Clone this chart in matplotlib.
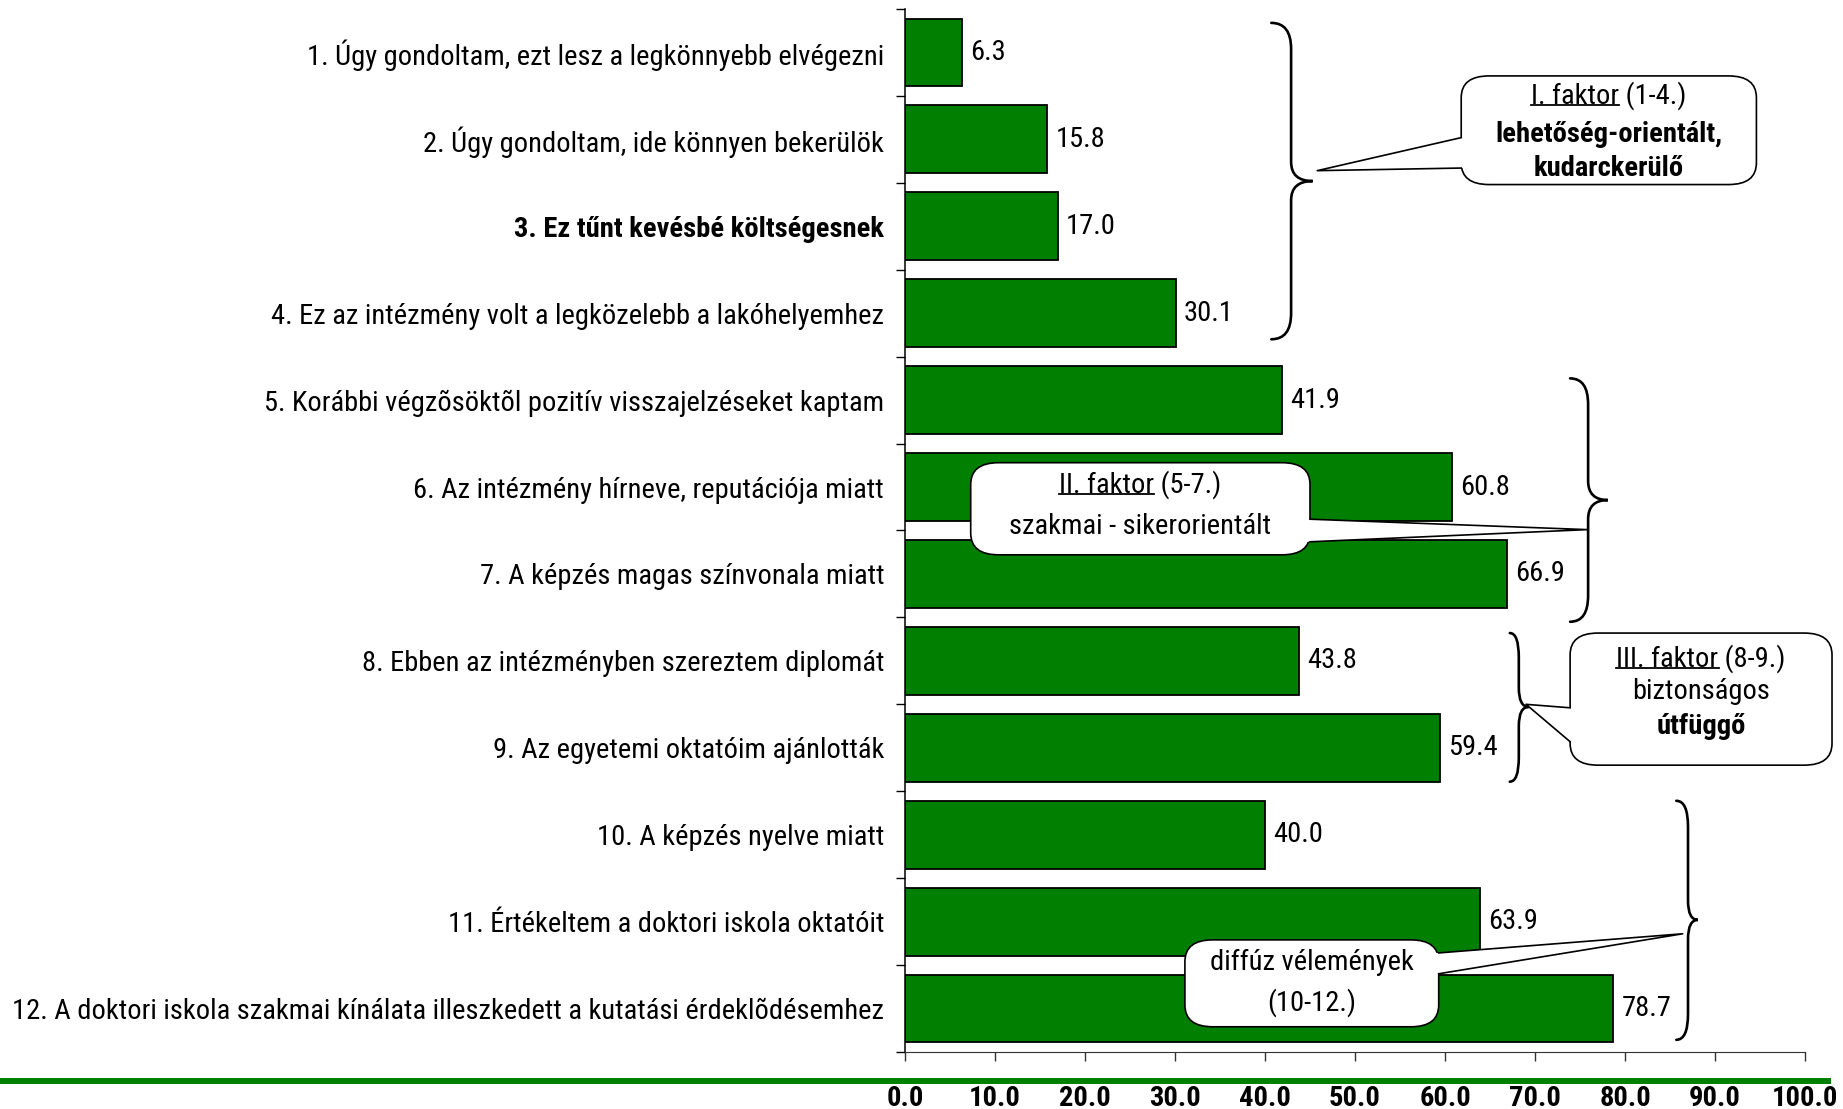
import numpy as np
import matplotlib.pyplot as plt
from matplotlib import font_manager
from matplotlib.patches import FancyBboxPatch, Polygon, PathPatch
from matplotlib.path import Path
from matplotlib.lines import Line2D

names = {f.name for f in font_manager.fontManager.ttflist}
narrow = None
for cand in ['Liberation Sans Narrow', 'Arial Narrow', 'Roboto Condensed', 'Open Sans Condensed']:
    if cand in names:
        narrow = cand
        break
if narrow is None:
    narrow = 'Liberation Sans'
    fs = 18.3
else:
    fs = 20.5
plt.rcParams['font.family'] = [narrow, 'DejaVu Sans']

# ------- data -------
labels = [
    "1. Úgy gondoltam, ezt lesz a legkönnyebb elvégezni",
    "2. Úgy gondoltam, ide könnyen bekerülök",
    "3. Ez tűnt kevésbé költségesnek",
    "4. Ez az intézmény volt a legközelebb a lakóhelyemhez",
    "5. Korábbi végzõsöktõl pozitív visszajelzéseket kaptam",
    "6. Az intézmény hírneve, reputációja miatt",
    "7. A képzés magas színvonala miatt",
    "8. Ebben az intézményben szereztem diplomát",
    "9. Az egyetemi oktatóim ajánlották",
    "10. A képzés nyelve miatt",
    "11. Értékeltem a doktori iskola oktatóit",
    "12. A doktori iskola szakmai kínálata illeszkedett a kutatási érdeklõdésemhez",
]
values = [6.3, 15.8, 17.0, 30.1, 41.9, 60.8, 66.9, 43.8, 59.4, 40.0, 63.9, 78.7]
xticks = np.arange(0, 101, 10)

# braces: (y top, y bottom, y cusp, x ends, x spine, x cusp)
braces = [
    (-0.34, 3.30, 1.48, 40.7, 42.9, 45.3),
    (3.75, 6.55, 5.15, 73.9, 75.9, 78.1),
    (6.68, 8.39, 7.53, 67.2, 68.2, 69.3),
    (8.61, 11.36, 9.98, 85.7, 87.0, 88.1),
]

# callouts: box (x0, x1, y0, y1), wedge edge x, wedge base (ya, yb), tip,
# text lines as (underlined part, rest, weight, y)
callouts = [
    dict(box=(61.8, 94.6, 0.27, 1.52), edge=61.8, base=(0.98, 1.33), tip=(45.8, 1.36),
         lines=[("I. faktor", " (1-4.)", 'normal', 0.5),
                ("", "lehetőség-orientált,", 'bold', 0.94),
                ("", "kudarckerülő", 'bold', 1.34)]),
    dict(box=(7.3, 45.0, 4.72, 5.78), edge=45.0, base=(5.37, 5.63), tip=(75.8, 5.49),
         lines=[("II. faktor", " (5-7.)", 'normal', 4.97),
                ("", "szakmai - sikerorientált", 'normal', 5.45)]),
    dict(box=(73.9, 103.0, 6.68, 8.20), edge=73.9, base=(7.54, 7.93), tip=(69.0, 7.50),
         lines=[("III. faktor", " (8-9.)", 'normal', 6.97),
                ("", "biztonságos", 'normal', 7.35),
                ("", "útfüggő", 'bold', 7.75)]),
    dict(box=(31.1, 59.3, 10.21, 11.21), edge=59.3, base=(10.36, 10.60), tip=(86.4, 10.14),
         lines=[("", "diffúz vélemények", 'normal', 10.47),
                ("", "(10-12.)", 'normal', 10.93)]),
]

fig = plt.figure(figsize=(18.43, 11.09), dpi=100)
ax = fig.add_axes([0.49105, 0.0514, 0.48834, 0.9405])

y = np.arange(len(values))
ax.barh(y, values, height=0.78, color='#007f00', edgecolor='black', linewidth=1.3, zorder=2)
for i, v in enumerate(values):
    ax.text(v + 0.9, i, f"{v:.1f}", va='center', ha='left', fontsize=fs, zorder=3)

ax.set_xlim(0, 100)
ax.set_ylim(11.5, -0.5)
ax.set_yticks(y)
ax.set_yticklabels(labels, fontsize=fs)
ax.get_yticklabels()[2].set_fontweight('bold')
ax.set_yticks(np.arange(-0.5, 12, 1), minor=True)
ax.tick_params(axis='y', which='major', length=0, pad=15)
ax.tick_params(axis='y', which='minor', length=6.5, width=1, color='black')
ax.set_xticks(xticks)
ax.set_xticklabels([f"{t:.1f}" for t in xticks], fontsize=fs, fontweight='bold')
ax.tick_params(axis='x', length=6.5, width=1, color='#333333', pad=17)
for s in ['top', 'right']:
    ax.spines[s].set_visible(False)
ax.spines['left'].set_linewidth(1.1)
ax.spines['bottom'].set_color('#333333')

# green separator line
fig.add_artist(Line2D([0, 0.992], [1 - 1081 / 1109] * 2, transform=fig.transFigure,
                      color='#008000', lw=4.3))

# braces
for yt, yb, ym, x0, x1, x2 in braces:
    r = min(0.3, (ym - yt) / 3)
    rc = 0.22
    verts = [(x0, yt), (x1, yt), (x1, yt + r),
             (x1, ym - rc), (x1, ym), (x2, ym),
             (x1, ym), (x1, ym + rc),
             (x1, yb - r), (x1, yb), (x0, yb)]
    codes = [Path.MOVETO, Path.CURVE3, Path.CURVE3,
             Path.LINETO, Path.CURVE3, Path.CURVE3,
             Path.CURVE3, Path.CURVE3,
             Path.LINETO, Path.CURVE3, Path.CURVE3]
    ax.add_patch(PathPatch(Path(verts, codes), fill=False, lw=1.9, ec='black',
                           clip_on=False, zorder=4, capstyle='round'))

# callouts
R = 3.1
asp = 0.25 / R
renderer = fig.canvas.get_renderer()
for c in callouts:
    bx0, bx1, by0, by1 = c['box']
    ax.add_patch(FancyBboxPatch((bx0, by0), bx1 - bx0, by1 - by0,
                                boxstyle=f"round,pad=0,rounding_size={R}",
                                mutation_aspect=asp, fc='white', ec='black', lw=1.2,
                                clip_on=False, zorder=5))
    xe = c['edge']
    ya, yb = c['base']
    xt, yt = c['tip']
    d = 0.4 if xe == bx0 else -0.4
    ax.add_patch(Polygon([(xe + d, ya), (xe, ya), (xt, yt), (xe, yb), (xe + d, yb)],
                         closed=True, fc='white', ec='none', clip_on=False, zorder=6))
    ax.add_line(Line2D([xe, xt, xe], [ya, yt, yb], color='black', lw=1.2,
                       clip_on=False, zorder=7))
    xc = (bx0 + bx1) / 2
    for under, rest, w, ly in c['lines']:
        t = ax.text(xc, ly, under + rest, ha='center', va='center', fontsize=fs,
                    fontweight=w, zorder=8, clip_on=False)
        if under:
            bb = t.get_window_extent(renderer)
            tmp = ax.text(0, 0, under, fontsize=fs, fontweight=w)
            wu = tmp.get_window_extent(renderer).width
            tmp.remove()
            inv = ax.transData.inverted()
            (ux0, uy), (ux1, _) = inv.transform([(bb.x0, bb.y0 + 5), (bb.x0 + wu, bb.y0 + 5)])
            ax.add_line(Line2D([ux0, ux1], [uy, uy], color='black', lw=1.3,
                               clip_on=False, zorder=8))

fig.savefig('out.png', dpi=100)
